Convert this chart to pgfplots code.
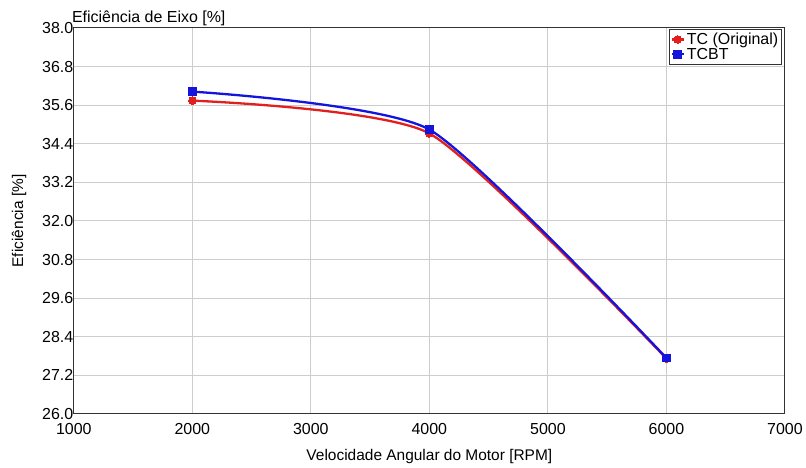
\documentclass[border=0pt]{standalone}
\usepackage{fontspec}
\setmainfont{Liberation Sans}
\usepackage{pgfplots}
\pgfplotsset{compat=1.18}

\definecolor{tcred}{RGB}{226,30,30}
\definecolor{tcblue}{RGB}{20,20,220}
\definecolor{gridgray}{RGB}{205,205,205}

\begin{document}
\begin{tikzpicture}[x=1pt,y=1pt]
\begin{axis}[
  at={(0,0)}, anchor=south west,
  scale only axis,
  width=713pt, height=387pt,
  xmin=1000, xmax=7000,
  ymin=26, ymax=38,
  xtick={1000,2000,...,7000},
  ytick={26.0,27.2,28.4,29.6,30.8,32.0,33.2,34.4,35.6,36.8,38.0},
  yticklabel style={/pgf/number format/fixed,/pgf/number format/fixed zerofill,/pgf/number format/precision=1},
  xticklabel style={/pgf/number format/set thousands separator={}},
  /pgf/number format/assume math mode=true,
  tick label style={font=\fontsize{16}{17}\selectfont},
  xticklabel style={yshift=-6pt},
  yticklabel style={xshift=3pt},
  major tick length=0pt,
  grid=major,
  grid style={gridgray, line width=0.9pt},
  axis line style={black!80, line width=1.1pt},
  xlabel={Velocidade Angular do Motor [RPM]},
  ylabel={Eficiência [\%]},
  label style={font=\fontsize{15.5}{16}\selectfont},
  xlabel style={yshift=-8pt},
  ylabel style={yshift=9pt},
  legend style={at={(rel axis cs:0.996,0.997)}, anchor=north east,
    font=\fontsize{16}{18}\selectfont, draw=black!80, line width=0.8pt,
    inner sep=1.5pt, row sep=-2pt, cells={anchor=west},
    nodes={inner sep=2pt}},
  legend image code/.code={
    \draw[mark repeat=2,mark phase=2,#1] plot coordinates {(0pt,0pt) (6pt,0pt) (12pt,0pt)};},
  clip=false,
]
% smoothed curves through the three operating points
\addplot[tcred, line width=2.3pt, smooth, tension=0.35, mark=*, mark size=3.8pt, mark options={line width=0pt}]
  coordinates {(2000,35.74) (4000,34.72) (6000,27.72)};
\addlegendentry{TC (Original)}
\addplot[tcblue, line width=2.3pt, smooth, tension=0.35, mark=square*, mark size=3.8pt, mark options={line width=0pt}]
  coordinates {(2000,36.02) (4000,34.84) (6000,27.74)};
\addlegendentry{TCBT}
\node[anchor=south west, inner sep=0pt, font=\fontsize{16}{17}\selectfont] at (rel axis cs:0,1) [yshift=2pt, xshift=-2pt] {Eficiência de Eixo [\%]};
\end{axis}
\path[use as bounding box] (-74pt,-53pt) rectangle (732pt,415pt);
\end{tikzpicture}
\end{document}
